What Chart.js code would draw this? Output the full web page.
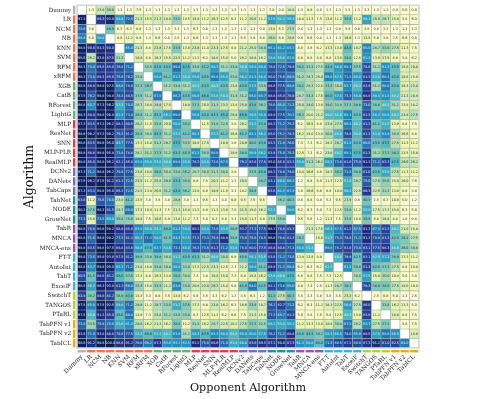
<!DOCTYPE html>
<html><head><meta charset="utf-8">
<style>html,body{margin:0;padding:0;background:#fff;overflow:hidden}canvas{display:block}</style>
<script src="https://cdn.jsdelivr.net/npm/chart.js@4"></script></head>
<body><div style="width:478px;height:399px"><canvas id="c" width="478" height="399"></canvas></div>
<script>
const algorithms=["Dummy","LR","NCM","NB","KNN","SVM","RFM","xRFM","XGB","CatB","RForest","LightG","MLP","ResNet","SNN","MLP-PLR","RealMLP","DCNv2","DANets","TabCaps","TabNet","NODE","GrowNet","TabR","MNCA","MNCA-ens","FT-T","AutoInt","TabT","ExcelF","SwitchT","TANGOS","PTaRL","TabPFN v1","TabPFN v2","TabICL"];
const groupSizes=[1,7,4,5,3,3,3,4,3,3];
const groupColors=["#b5b5b5","#f2734d","#5db877","#e23a46","#6c70c9","#159a8c","#9b50bf","#2bb8d9","#a5d92f","#f1a90c"];
const rowDummy=[null,1.3,23.8,30.0,1.3,1.3,7.5,1.3,1.3,1.3,1.3,1.3,1.3,1.3,1.3,1.3,1.3,1.3,1.3,1.3,3.8,0.0,18.8,1.3,8.8,0.0,1.3,1.3,3.3,1.3,3.3,1.3,1.3,0.0,5.0,0.0];
const rowLR=[97.3,null,86.3,93.8,58.8,72.5,21.3,15.5,21.3,18.8,33.0,10.5,15.8,11.2,16.3,12.5,6.3,11.2,20.8,11.2,57.5,51.2,56.3,10.8,11.3,7.5,13.8,11.2,38.8,11.2,56.3,25.8,26.7,15.8,3.8,6.3];
const rowNCM=[73.8,3.8,null,40.0,6.3,6.3,8.8,1.3,1.3,1.3,3.3,1.3,6.3,0.0,1.3,1.3,1.3,1.3,1.3,0.0,13.8,6.3,27.5,0.0,1.3,1.3,1.3,0.8,3.8,0.8,3.8,0.8,3.3,1.3,1.3,1.3];
const rowNB=[68.8,5.0,58.8,null,8.8,11.2,8.8,1.3,6.6,0.0,2.5,1.3,6.6,1.3,1.3,1.3,1.3,5.5,3.8,5.8,26.0,8.8,20.8,0.0,6.6,0.8,1.3,1.3,16.6,1.3,13.8,5.0,3.8,2.5,6.6,0.0];
const rowKNN=[98.8,90.0,93.3,90.0,null,65.0,21.3,8.8,23.8,17.5,37.5,13.8,23.8,11.0,23.3,17.5,8.8,21.2,25.0,30.8,65.1,61.2,63.7,8.8,3.8,6.2,17.3,13.8,43.8,18.7,65.0,28.7,33.8,27.5,11.3,7.5];
const rowSVM=[95.6,26.2,93.8,87.5,31.3,null,18.8,8.8,16.3,15.5,22.5,11.2,11.3,6.2,18.8,15.0,5.0,16.2,18.8,16.2,58.8,55.8,63.5,8.8,8.8,8.8,8.8,13.8,38.0,12.5,61.3,13.8,17.5,8.8,3.8,6.2];
const rowRFM=[98.3,70.0,85.8,85.0,78.8,71.2,null,33.5,43.8,43.5,69.8,47.5,33.8,41.2,58.3,31.2,33.8,50.0,58.8,60.0,78.8,72.5,78.8,38.2,33.3,27.5,43.8,58.8,68.3,37.5,78.8,31.2,61.3,43.5,18.8,20.8];
const rowXRFM=[98.3,73.8,88.3,85.0,75.6,76.2,33.8,null,58.8,41.2,61.3,50.0,55.6,43.5,65.8,55.8,33.8,56.2,61.3,58.8,80.0,75.6,68.8,31.2,28.7,25.0,65.0,57.5,71.3,60.0,81.3,53.8,68.3,43.8,18.8,15.0];
const rowXGB=[98.8,88.8,98.8,97.5,68.8,78.8,37.3,39.7,null,31.2,33.8,31.2,48.3,43.5,48.3,43.5,23.8,43.5,57.5,33.8,88.8,77.5,68.8,38.2,28.3,22.5,37.3,30.0,63.7,48.2,83.8,31.2,68.0,43.8,18.3,23.8];
const rowCatB=[97.5,76.2,98.8,98.8,78.3,80.5,37.5,31.2,67.5,null,66.3,43.5,58.8,45.8,53.8,50.0,31.3,31.2,65.0,65.7,88.8,85.0,78.8,28.7,33.3,17.5,45.0,57.5,73.3,58.8,88.8,58.8,61.3,48.2,21.3,20.8];
const rowRForest=[98.8,63.7,97.3,96.2,53.3,70.0,28.7,18.8,28.8,17.5,null,18.8,37.3,20.0,31.3,23.3,13.8,25.8,43.8,36.2,78.0,65.0,71.3,25.0,28.0,13.8,35.0,33.8,37.3,38.8,73.0,38.8,48.3,31.2,13.8,18.2];
const rowLightG=[98.3,88.8,98.8,96.8,62.5,73.8,38.8,31.2,43.3,56.2,69.8,null,58.8,43.0,43.3,45.0,25.8,45.8,55.6,58.8,88.8,77.5,70.3,36.2,20.0,21.2,48.0,50.0,65.1,43.8,81.3,58.2,58.8,48.2,23.8,27.5];
const rowMLP=[97.3,83.5,97.3,96.2,88.3,80.5,28.2,11.5,33.8,20.0,58.8,38.2,null,11.5,33.8,32.5,3.8,20.2,53.3,43.8,88.3,71.2,75.3,6.2,16.5,8.8,23.8,27.5,66.3,48.2,81.3,41.2,51.3,13.9,8.8,7.5];
const rowResNet=[98.8,96.2,97.3,96.2,75.3,81.2,38.8,30.0,43.3,31.2,53.3,41.2,60.3,null,53.3,41.2,18.8,41.2,63.1,56.2,85.0,75.2,78.3,16.2,15.0,13.8,30.0,48.8,78.8,50.0,81.3,53.8,63.8,30.8,16.6,8.8];
const rowSNN=[98.8,83.5,98.8,95.0,63.7,77.5,17.3,15.0,31.3,28.7,47.5,33.5,18.8,17.5,null,18.8,3.8,20.9,40.0,43.8,83.3,71.8,76.0,7.3,7.3,6.2,18.3,28.7,61.3,43.8,68.0,43.5,47.3,27.5,11.3,11.2];
const rowMLPPLR=[98.8,88.8,98.8,95.8,73.8,78.8,28.2,31.2,37.3,31.2,43.3,40.0,61.3,35.0,68.8,null,18.8,38.8,58.8,56.2,83.8,75.0,75.3,12.5,7.3,6.2,23.8,48.2,68.1,47.5,81.3,31.2,37.3,38.2,13.5,15.8];
const rowRealMLP=[98.8,85.0,98.8,96.2,83.1,85.0,63.8,55.8,53.8,48.8,68.8,55.0,78.3,53.8,73.8,67.5,null,76.2,83.8,77.5,95.0,85.0,83.3,55.0,31.3,26.2,58.3,73.8,81.8,75.0,91.3,71.2,83.3,47.5,26.6,26.2];
const rowDCNv2=[97.3,71.2,98.8,96.2,78.8,77.5,23.8,18.8,38.8,30.0,33.8,36.2,28.7,30.0,31.3,30.0,3.8,null,37.5,43.8,88.3,78.8,78.0,10.8,16.6,8.8,18.3,38.2,71.3,38.8,81.0,43.5,53.8,27.5,11.3,11.2];
const rowDANets=[97.5,96.2,97.5,91.2,81.3,72.5,23.5,11.2,25.8,30.0,43.3,35.0,8.8,7.5,20.3,11.2,1.3,19.8,null,38.7,83.1,60.0,66.3,1.2,8.8,8.8,11.3,12.5,51.8,28.7,75.0,27.5,35.0,15.8,16.0,7.5];
const rowTabCaps=[97.3,83.3,98.8,95.0,85.3,72.5,21.3,13.8,20.8,31.2,43.8,36.2,13.8,8.8,18.8,11.5,3.3,10.2,38.8,null,83.8,61.5,67.3,3.8,16.6,8.8,8.8,10.8,56.3,22.5,86.3,22.5,31.3,13.8,8.8,3.8];
const rowTabNet=[83.8,11.2,75.6,70.0,23.8,41.2,13.5,3.8,3.8,3.8,28.8,3.8,1.3,9.5,1.3,0.0,8.8,9.5,7.5,9.5,null,36.2,40.3,0.0,8.8,0.8,5.3,9.5,27.5,0.8,40.3,2.5,6.3,10.8,5.0,1.2];
const rowNODE=[98.3,37.5,98.3,81.5,28.7,68.8,17.3,10.0,11.3,7.5,21.3,15.8,11.3,8.8,11.3,13.8,7.5,21.5,15.0,16.2,53.3,null,58.8,6.2,6.3,5.0,7.3,12.5,33.8,11.2,53.8,17.5,17.3,15.8,6.3,5.0];
const rowGrowNet=[77.3,15.8,73.5,60.0,35.8,35.0,18.8,7.5,18.8,8.8,13.8,11.2,7.3,5.0,8.3,8.8,3.3,15.0,11.3,8.8,27.5,35.8,null,9.5,5.8,1.2,11.3,7.5,33.8,10.8,38.8,8.8,18.8,8.8,1.8,0.8];
const rowTabR=[98.8,78.8,98.8,98.2,88.8,85.0,63.8,55.0,53.3,45.0,61.3,55.0,88.3,53.8,73.8,53.8,38.8,83.7,77.3,77.5,98.3,78.8,83.3,null,21.3,17.5,56.3,67.5,81.3,67.5,91.3,67.5,83.3,48.2,21.0,15.8];
const rowMNCA=[98.8,71.5,98.8,98.2,77.3,81.3,60.3,71.3,58.8,41.5,63.3,57.5,77.3,73.3,75.8,88.8,38.8,75.0,75.8,78.5,96.8,78.8,81.3,39.2,null,15.0,51.3,73.3,78.8,71.3,91.3,78.8,81.3,42.5,38.1,27.5];
const rowMNCAens=[98.8,83.5,98.8,97.5,88.8,83.8,58.8,47.5,63.7,53.8,73.3,60.0,76.3,73.5,81.3,71.2,53.8,78.0,80.0,77.5,88.8,80.8,77.3,60.0,51.3,null,68.8,78.2,83.8,73.8,83.1,77.5,88.3,48.8,36.0,30.8];
const rowFTT=[98.8,73.5,95.8,93.8,87.5,81.2,38.8,33.8,38.8,30.0,51.3,43.5,43.3,31.2,48.8,30.0,8.8,40.8,56.1,53.5,83.8,71.2,73.8,13.8,13.8,8.8,null,48.8,78.8,42.5,83.1,52.5,57.3,38.8,13.3,11.2];
const rowAutoInt=[98.8,63.7,98.8,95.0,62.3,71.2,23.8,15.8,33.8,30.0,58.8,33.0,17.3,22.5,23.3,12.5,2.3,21.2,58.8,41.2,88.8,71.3,68.8,6.2,6.3,6.2,51.3,null,61.3,38.8,81.3,42.5,37.3,27.5,8.8,10.8];
const rowTabT=[80.5,41.5,88.8,81.2,45.0,37.5,13.3,8.8,16.3,13.8,38.8,30.0,7.3,3.8,18.8,15.0,7.3,8.8,15.8,16.2,53.8,48.8,47.5,5.8,8.8,7.5,7.3,12.5,null,30.0,57.5,15.8,30.0,10.8,5.0,3.8];
const rowExcelF=[98.8,56.2,96.3,93.8,81.3,68.8,33.3,15.8,33.3,21.2,63.8,33.0,20.8,23.8,26.3,15.0,5.8,41.9,68.0,42.5,82.1,73.8,65.0,8.8,7.3,2.5,11.3,28.7,38.2,null,78.3,38.8,38.8,27.5,18.0,10.8];
const rowSwitchT=[83.8,38.2,88.8,81.2,38.8,43.8,13.3,3.3,8.8,7.5,13.8,6.2,5.8,3.5,3.3,6.2,1.3,3.5,6.3,1.2,41.3,27.5,40.3,3.5,3.3,3.8,3.8,3.5,23.3,6.2,null,2.5,8.8,5.0,1.3,2.5];
const rowTANGOS=[97.5,65.0,97.5,92.5,58.8,71.2,28.8,11.2,28.7,33.5,53.2,37.5,17.3,8.8,23.8,16.2,6.3,16.6,33.8,18.7,76.2,82.7,71.2,6.2,6.3,11.2,18.3,22.5,58.8,27.5,86.0,null,33.8,16.2,13.3,5.0];
const rowPTaRL=[97.5,48.8,91.3,85.0,45.0,68.8,13.8,7.3,25.8,31.2,33.8,33.8,8.3,12.5,11.3,6.2,8.8,7.5,21.3,15.8,77.3,68.7,81.3,5.0,3.8,7.5,5.8,12.5,48.3,13.8,83.8,11.2,null,18.8,8.8,7.5];
const rowPFNv1=[73.8,33.5,75.8,70.0,53.8,61.3,28.8,16.2,21.3,16.2,38.8,11.2,31.3,16.2,28.7,22.5,18.2,27.5,37.3,32.5,58.2,53.8,58.2,11.2,13.3,13.8,18.8,30.8,67.3,28.2,63.7,27.5,37.3,null,3.8,7.5];
const rowPFNv2=[93.8,71.0,93.8,88.8,78.8,77.5,53.3,45.0,53.3,48.2,63.8,31.2,58.3,47.5,63.3,58.8,48.8,60.8,60.0,57.5,78.2,71.2,88.8,43.5,43.3,38.2,58.3,60.5,78.0,65.8,88.5,57.5,68.8,60.5,null,18.8];
const rowTabICL=[98.8,91.2,98.8,100.0,88.8,91.2,78.8,68.2,87.3,63.0,63.2,62.5,93.3,75.8,88.6,71.0,53.8,60.0,83.8,89.5,87.1,90.8,87.3,61.3,58.8,45.0,71.3,80.5,87.3,80.8,87.3,91.2,81.0,82.5,68.0,null];
const matrix=[rowDummy,rowLR,rowNCM,rowNB,rowKNN,rowSVM,rowRFM,rowXRFM,rowXGB,rowCatB,rowRForest,rowLightG,rowMLP,rowResNet,rowSNN,rowMLPPLR,rowRealMLP,rowDCNv2,rowDANets,rowTabCaps,rowTabNet,rowNODE,rowGrowNet,rowTabR,rowMNCA,rowMNCAens,rowFTT,rowAutoInt,rowTabT,rowExcelF,rowSwitchT,rowTANGOS,rowPTaRL,rowPFNv1,rowPFNv2,rowTabICL];

const stops=[[255,255,217],[237,248,177],[199,233,180],[127,205,187],[65,182,196],[29,145,192],[34,94,168],[37,52,148],[8,29,88]];
function rgbFor(v){const t=Math.min(1,Math.max(0,v/100))*(stops.length-1),i=Math.min(stops.length-2,Math.floor(t)),f=t-i;return stops[i].map((c,k)=>c+(stops[i+1][k]-c)*f);}
function cssFor(v){if(v===null)return '#ffffff';const c=rgbFor(v);return `rgb(${c[0]|0},${c[1]|0},${c[2]|0})`;}
function textFor(v){const l=rgbFor(v).map(c=>{c/=255;return c<=.03928?c/12.92:Math.pow((c+.055)/1.055,2.4)});return (.2126*l[0]+.7152*l[1]+.0722*l[2])<.408?'#e8eef5':'#2a2a2a';}

const overlay={id:'overlay',afterDatasetsDraw(chart){
  const {ctx,scales:{x,y},chartArea:a}=chart;ctx.save();
  ctx.font='3.4px "DejaVu Sans"';ctx.textAlign='center';ctx.textBaseline='middle';
  matrix.forEach((row,r)=>row.forEach((v,c)=>{if(v===null)return;ctx.fillStyle=textFor(v);ctx.fillText(v.toFixed(1),x.getPixelForValue(c),y.getPixelForValue(r));}));
  ctx.strokeStyle='#d4d4d4';ctx.lineWidth=1.5;ctx.strokeRect(a.left,a.top,a.right-a.left,a.bottom-a.top);
  let idx=0;const w=x.getPixelForValue(1)-x.getPixelForValue(0);
  groupSizes.forEach((n,g)=>{ctx.fillStyle=groupColors[g];
    for(let k=0;k<n;k++,idx++){
      const yy=y.getPixelForValue(idx),xx=x.getPixelForValue(idx);
      ctx.fillRect(a.left-4,yy-w/2+.6,2.4,w-1.2);
      ctx.fillRect(xx-w/2+.6,a.bottom+2,w-1.2,2.4);
    }});
  ctx.restore();
}};

new Chart(document.getElementById('c'),{
  type:'bar',
  data:{labels:algorithms,datasets:matrix.map((row,r)=>({
    label:algorithms[r],
    data:row.map((v,c)=>({x:algorithms[c],y:[r-.5,r+.5]})),
    backgroundColor:row.map(cssFor),
    borderColor:'#a4a4a4',borderWidth:.6,borderSkipped:false,
    grouped:false,barPercentage:1,categoryPercentage:1
  }))},
  plugins:[overlay],
  options:{
    responsive:false,animation:false,
    layout:{padding:{left:0,right:59,top:5.3,bottom:0}},
    plugins:{legend:{display:false},tooltip:{enabled:false},title:{display:false}},
    scales:{
      x:{type:'category',grid:{display:false,drawTicks:false},border:{display:false},
        afterFit(s){s.height=51;s.paddingLeft=0;s.paddingRight=0;},
        ticks:{autoSkip:false,minRotation:45,maxRotation:45,padding:5.5,color:'#222',font:{family:'"DejaVu Serif"',size:6}},
        title:{display:true,text:'Opponent Algorithm',color:'#111',font:{family:'"DejaVu Serif"',size:11.2},padding:{top:0,bottom:4}}},
      y:{type:'linear',reverse:true,min:-.5,max:35.5,grid:{display:false,drawTicks:false},border:{display:false},
        afterFit(s){s.width=77;s.paddingTop=0;s.paddingBottom=0;},
        afterBuildTicks(s){s.ticks=algorithms.map((_,i)=>({value:i}));},
        ticks:{autoSkip:false,padding:6,color:'#222',font:{family:'"DejaVu Serif"',size:5.7},callback:v=>algorithms[v]},
        title:{display:true,text:'Algorithm',color:'#111',font:{family:'"DejaVu Serif"',size:12.5},padding:{top:22,bottom:0}}}
    }
  }
});
</script></body></html>
